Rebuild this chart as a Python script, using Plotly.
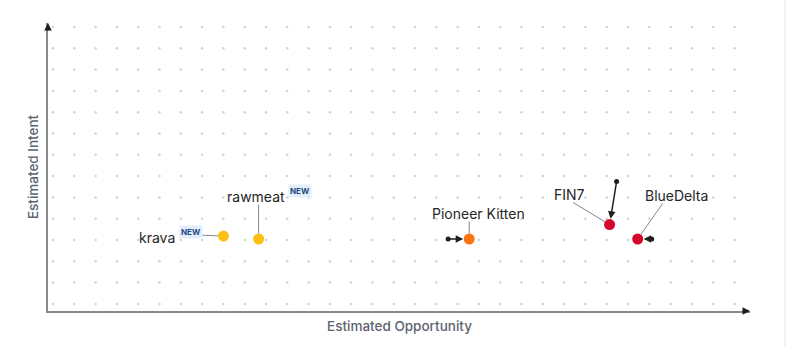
import numpy as np
import plotly.graph_objects as go

# Actors placed by estimated opportunity (x) and estimated intent (y), 0-10 scale
actors = ["krava", "rawmeat", "Pioneer Kitten", "FIN7", "BlueDelta"]
opportunity = [2.5, 3.0, 6.0, 8.0, 8.4]
intent = [2.6, 2.5, 2.5, 3.0, 2.5]
colors = ["#fcbf12", "#fcbf12", "#fb7412", "#d5062c", "#d5062c"]
is_new = [True, True, False, False, False]

# Previous positions (movement since last assessment); None = no movement
prev_opportunity = [None, None, 5.7, 8.1, 8.6]
prev_intent = [None, None, 2.5, 4.5, 2.5]

# Label placement relative to each dot, in pixels (label centre, leader tail, NEW badge)
label_shift = [(-67, -1), (-3, 43), (9, 26), (-40, 30), (39, 44)]
leader_tail = [(-23, -1), (0, -36), (0, -19), (-38, -23), (26, -37)]
badge_shift = [(-33, 4.5), (41, 48.5), None, None, None]

FONT = "Inter"
AXIS_GRAY = "#8a8a8a"
TITLE_GRAY = "#5d6470"

fig = go.Figure()

# Dotted background grid
gx = 0.071 + 0.3034 * np.arange(33)
gy = 9.861 - 0.7396 * np.arange(14)
GX, GY = np.meshgrid(gx, gy)
fig.add_trace(go.Scatter(
    x=GX.ravel(), y=GY.ravel(), mode="markers",
    marker=dict(size=2.5, color="#d2d2d2"), hoverinfo="skip", showlegend=False))

# Tails of movement arrows
tx = [p for p in prev_opportunity if p is not None]
ty = [p for p in prev_intent if p is not None]
fig.add_trace(go.Scatter(
    x=tx, y=ty, mode="markers", marker=dict(size=5, color="#1e1e1e"),
    hoverinfo="skip", showlegend=False))

annotations = []
for i, name in enumerate(actors):
    if prev_opportunity[i] is not None:
        annotations.append(dict(
            x=opportunity[i], y=intent[i], ax=prev_opportunity[i], ay=prev_intent[i],
            xref="x", yref="y", axref="x", ayref="y", text="", showarrow=True,
            arrowhead=2, arrowsize=1, arrowwidth=1.5, arrowcolor="#1e1e1e", standoff=6))

# Actor dots
fig.add_trace(go.Scatter(
    x=opportunity, y=intent, mode="markers",
    marker=dict(size=11, color=colors), text=actors,
    hovertemplate="%{text}<extra></extra>", showlegend=False))

for i, name in enumerate(actors):
    # leader line
    annotations.append(dict(
        x=opportunity[i], y=intent[i], xref="x", yref="y", text="", showarrow=True,
        ax=leader_tail[i][0], ay=leader_tail[i][1], arrowhead=0, arrowwidth=1,
        arrowcolor="#7c8695", standoff=5.5))
    # label
    annotations.append(dict(
        x=opportunity[i], y=intent[i], xref="x", yref="y", text=name, showarrow=False,
        xshift=label_shift[i][0], yshift=label_shift[i][1],
        font=dict(family=FONT, size=14, color="#262626")))
    if is_new[i]:
        annotations.append(dict(
            x=opportunity[i], y=intent[i], xref="x", yref="y", text="<b>NEW</b>",
            showarrow=False, xshift=badge_shift[i][0], yshift=badge_shift[i][1],
            bgcolor="#e3eefa", borderpad=1,
            font=dict(family=FONT, size=8, color="#1d4a82")))

# Axis arrowheads
annotations.append(dict(x=0, y=1, xref="paper", yref="paper", ax=0, ay=9, text="",
                        showarrow=True, arrowhead=2, arrowsize=1, arrowwidth=1.5,
                        arrowcolor="#1e1e1e"))
annotations.append(dict(x=1, y=0, xref="paper", yref="paper", ax=-9, ay=0, text="",
                        showarrow=True, arrowhead=2, arrowsize=1, arrowwidth=1.5,
                        arrowcolor="#1e1e1e"))

# Axis titles
annotations.append(dict(x=0.5, y=-0.052, xref="paper", yref="paper",
                        text="Estimated Opportunity", showarrow=False,
                        xanchor="center", yanchor="middle",
                        font=dict(family=FONT, size=13.5, color=TITLE_GRAY, weight=500)))
annotations.append(dict(x=-0.0214, y=0.503, xref="paper", yref="paper",
                        text="Estimated Intent", showarrow=False, textangle=-90,
                        xanchor="center", yanchor="middle",
                        font=dict(family=FONT, size=13.5, color=TITLE_GRAY, weight=500)))

fig.update_layout(
    width=786, height=346,
    margin=dict(l=48, r=36, t=23, b=35),
    paper_bgcolor="white", plot_bgcolor="white",
    font=dict(family=FONT),
    annotations=annotations,
    shapes=[dict(type="line", xref="paper", yref="paper", x0=1.0499, x1=1.0499,
                 y0=-0.13, y1=1.09, line=dict(color="#e6e6e6", width=1))],
    xaxis=dict(range=[0, 10], showgrid=False, zeroline=False, showticklabels=False,
               ticks="", showline=True, linecolor=AXIS_GRAY, linewidth=1.5, fixedrange=True),
    yaxis=dict(range=[0, 10], showgrid=False, zeroline=False, showticklabels=False,
               ticks="", showline=True, linecolor=AXIS_GRAY, linewidth=1.5, fixedrange=True),
    hovermode="closest",
)

fig.write_html("out.html", config={"displayModeBar": False})
